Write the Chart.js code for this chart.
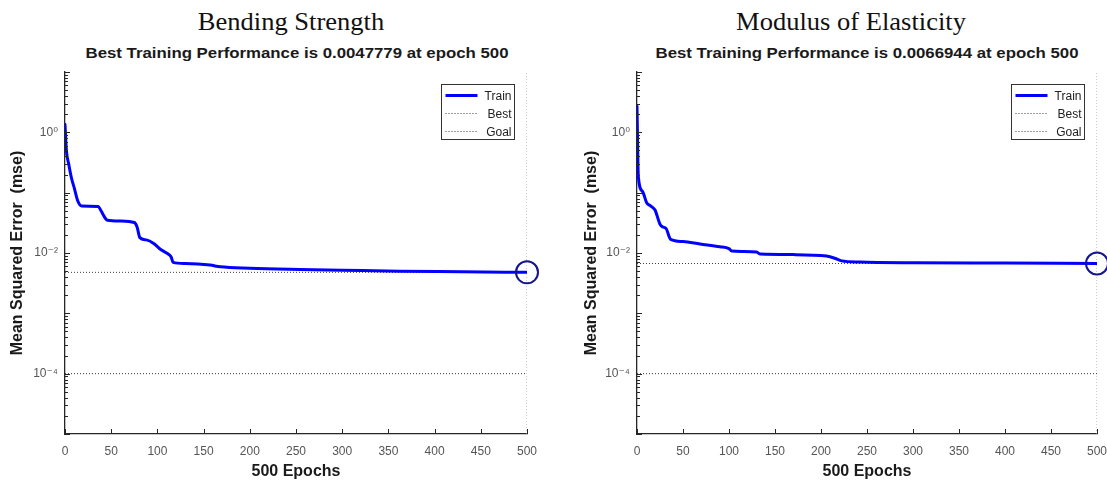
<!DOCTYPE html>
<html>
<head>
<meta charset="utf-8">
<script src="https://cdn.jsdelivr.net/npm/chart.js@4.4.1/dist/chart.umd.min.js"></script>
<style>
  html, body { margin: 0; padding: 0; background: #fff; }
  body { width: 1107px; height: 482px; position: relative; overflow: hidden; }
  canvas { position: absolute; top: 0; }
  .head { position: absolute; white-space: nowrap; color: #111;
          font-family: "Liberation Serif", "Times New Roman", serif; font-size: 26px; line-height: 30px;
          transform: translateX(-50%) scaleX(1.02); top: 7px; }
  .sub { position: absolute; white-space: nowrap; color: #1a1a1a;
         font-family: "Liberation Sans", Arial, sans-serif; font-weight: bold; font-size: 15px; line-height: 18px;
         transform: translateX(-50%) scaleX(1.12); top: 44px; }
</style>
</head>
<body>
<div class="head" style="left:291px">Bending Strength</div>
<div class="sub" style="left:297px">Best Training Performance is 0.0047779 at epoch 500</div>
<div class="head" style="left:851px">Modulus of Elasticity</div>
<div class="sub" style="left:867px">Best Training Performance is 0.0066944 at epoch 500</div>
<canvas id="c1" width="560" height="482" style="left:0px"></canvas>
<canvas id="c2" width="550" height="482" style="left:560px"></canvas>
<script>
// ---- data ----
const bendEpochs = [0, 1.5, 4, 7, 10, 14, 18, 36, 39, 44, 46, 60, 75, 78, 81, 88, 96, 104, 113, 115, 117, 130, 157, 168, 200, 254, 300, 362, 430, 500];
const bendMse    = [1.35, 0.5, 0.3, 0.175, 0.12, 0.072, 0.060, 0.059, 0.05, 0.037, 0.035, 0.034, 0.032, 0.027, 0.018, 0.0165, 0.0144, 0.0113, 0.0093, 0.0085, 0.0070, 0.0067, 0.0063, 0.0059, 0.0056, 0.00535, 0.0052, 0.0050, 0.0049, 0.0047779];
const bendBest = 0.0047779;

const moeEpochs = [0, 1.5, 6, 10.5, 15, 19.6, 25, 28, 31.5, 36.6, 50, 68.5, 90, 100, 103, 115, 130, 134, 170, 206, 215, 222.5, 242, 300, 400, 500];
const moeMse    = [2.7, 0.18, 0.105, 0.068, 0.060, 0.0515, 0.030, 0.027, 0.0256, 0.0168, 0.0155, 0.0141, 0.0127, 0.0118, 0.0108, 0.0106, 0.01035, 0.0096, 0.0094, 0.0089, 0.0082, 0.0074, 0.0071, 0.0069, 0.0068, 0.0066944];
const moeBest = 0.0066944;

const goalValue = 1e-4;
const bestEpoch = 500;
const xTicks = [0, 50, 100, 150, 200, 250, 300, 350, 400, 450, 500];
const yMajorExp = [-5, -4, -3, -2, -1, 0, 1];
const yLabelMap = { "1": "10\u2070", "0.01": "10\u207B\u00B2", "0.0001": "10\u207B\u2074" };
const xMin = 0, xMax = 500, yMin = 1e-5, yMax = 10;

// ---- helpers ----
function yTickValues() {
  const v = [];
  for (const e of yMajorExp) {
    for (let m = 1; m <= 9; m++) {
      const val = m * Math.pow(10, e);
      if (val <= yMax * 1.0001 && val >= yMin * 0.9999) v.push(+val.toPrecision(3));
    }
  }
  return v;
}
function isMajor(v) { const l = Math.log10(v); return Math.abs(l - Math.round(l)) < 1e-6; }

const innerTicks = {
  id: 'innerTicks',
  afterDatasetsDraw(chart) {
    const ctx = chart.ctx, ca = chart.chartArea;
    const xs = chart.scales.x, ys = chart.scales.y;
    ctx.save();
    ctx.strokeStyle = '#262626';
    ctx.lineWidth = 1;
    ctx.beginPath();
    for (const t of xTicks) {
      const px = Math.round(xs.getPixelForValue(t)) + 0.5;
      ctx.moveTo(px, ca.bottom);
      ctx.lineTo(px, ca.bottom - 5);
    }
    for (const v of yTickValues()) {
      const py = Math.round(ys.getPixelForValue(v)) + 0.5;
      const len = isMajor(v) ? 5 : 3;
      ctx.moveTo(ca.left, py);
      ctx.lineTo(ca.left + len, py);
    }
    ctx.stroke();
    ctx.restore();
  }
};

const boxLegend = {
  id: 'boxLegend',
  afterDraw(chart) {
    const ctx = chart.ctx, ca = chart.chartArea;
    const w = 73, h = 55;
    const x0 = Math.round(ca.right - 13 - w) + 0.5, y0 = Math.round(ca.top + 12) + 0.5;
    ctx.save();
    ctx.fillStyle = '#fff';
    ctx.fillRect(x0, y0, w, h);
    ctx.strokeStyle = '#333';
    ctx.lineWidth = 1;
    ctx.strokeRect(x0, y0, w, h);
    const items = chart.data.datasets.filter(d => d.legendRow !== undefined).sort((a, b) => a.legendRow - b.legendRow);
    const rows = [10, 28, 46];
    ctx.font = '12px "Liberation Sans", Arial, sans-serif';
    ctx.textBaseline = 'middle';
    ctx.textAlign = 'right';
    items.forEach((d, i) => {
      const yy = Math.round(y0 + rows[i]) + 0.5;
      ctx.beginPath();
      ctx.strokeStyle = d.borderColor;
      ctx.lineWidth = d.borderWidth;
      ctx.setLineDash(d.borderDash || []);
      ctx.moveTo(x0 + 4, yy);
      ctx.lineTo(x0 + 36, yy);
      ctx.stroke();
      ctx.setLineDash([]);
      ctx.fillStyle = '#222';
      ctx.fillText(d.label, x0 + w - 3, yy + 1);
    });
    ctx.restore();
  }
};

function makeChart(id, epochs, mse, best, yWidth, yTitlePad, padRight) {
  const train = epochs.map((e, i) => ({ x: e, y: mse[i] }));
  return new Chart(document.getElementById(id), {
    type: 'line',
    data: {
      datasets: [
        { label: 'Train', legendRow: 0, data: train, borderColor: '#0000ff', borderWidth: 3,
          pointRadius: 0, cubicInterpolationMode: 'monotone', borderJoinStyle: 'round', borderCapStyle: 'round', order: 1 },
        { label: 'Best', legendRow: 1, data: [{ x: xMin, y: best }, { x: xMax, y: best }], borderColor: '#3a3a3a',
          borderWidth: 1, borderDash: [1, 2], pointRadius: 0, order: 3 },
        { label: 'Goal', legendRow: 2, data: [{ x: xMin, y: goalValue }, { x: xMax, y: goalValue }], borderColor: '#3a3a3a',
          borderWidth: 1, borderDash: [1, 2], pointRadius: 0, order: 3 },
        { label: 'BestEpoch', data: [{ x: bestEpoch, y: yMin }, { x: bestEpoch, y: yMax }], borderColor: '#9a9a9a',
          borderWidth: 1, borderDash: [1, 2], pointRadius: 0, order: 4 },
        { label: 'BestPoint', data: [{ x: bestEpoch, y: best }], showLine: false, pointRadius: 11,
          pointBorderWidth: 2, pointBorderColor: '#14148c', pointBackgroundColor: 'rgba(0,0,0,0)',
          pointStyle: 'circle', clip: false, order: 0 }
      ]
    },
    options: {
      responsive: false,
      animation: false,
      events: [],
      layout: { padding: { top: 72, left: 0, right: padRight, bottom: 0 } },
      plugins: { legend: { display: false }, tooltip: { enabled: false }, title: { display: false } },
      scales: {
        x: {
          type: 'linear', min: xMin, max: xMax,
          afterBuildTicks: s => { s.ticks = xTicks.map(v => ({ value: v })); },
          afterFit: s => { s.height = 48; s.paddingLeft = 0; s.paddingRight = 0; },
          grid: { display: false, drawTicks: false },
          border: { display: true, color: '#262626', width: 1.3 },
          ticks: { autoSkip: false, maxRotation: 0, padding: 10, color: '#555',
                   font: { family: '"Liberation Sans", Arial, sans-serif', size: 12 } },
          title: { display: true, text: '500 Epochs', color: '#1a1a1a', padding: { top: 0, bottom: 1 },
                   font: { family: '"Liberation Sans", Arial, sans-serif', size: 16, weight: 'bold' } }
        },
        y: {
          type: 'logarithmic', min: yMin, max: yMax,
          afterBuildTicks: s => { s.ticks = yTickValues().map(v => ({ value: v, major: isMajor(v) })); },
          afterFit: s => { s.width = yWidth; s.paddingTop = 0; s.paddingBottom = 0; },
          grid: { display: false, drawTicks: false },
          border: { display: true, color: '#262626', width: 1.3 },
          ticks: { autoSkip: false, padding: 7, color: '#555',
                   font: { family: '"Liberation Sans", "DejaVu Sans", Arial, sans-serif', size: 12 },
                   callback: v => yLabelMap[String(+(+v).toPrecision(3))] || '' },
          title: { display: true, text: 'Mean Squared Error  (mse)', color: '#1a1a1a', padding: { top: yTitlePad, bottom: 0 },
                   font: { family: '"Liberation Sans", Arial, sans-serif', size: 16, weight: 'bold' } }
        }
      }
    },
    plugins: [innerTicks, boxLegend]
  });
}

makeChart('c1', bendEpochs, bendMse, bendBest, 65, 8, 33);
makeChart('c2', moeEpochs, moeMse, moeBest, 77, 22, 10);
</script>
</body>
</html>
